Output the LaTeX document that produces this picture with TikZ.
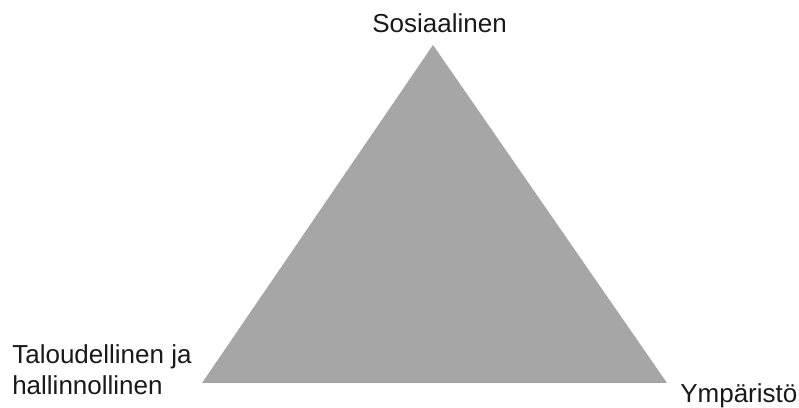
\documentclass[tikz,border=0pt]{standalone}
\usepackage{fontspec}
\setmainfont{Liberation Sans}
\usepackage{tikz}
\usetikzlibrary{positioning, calc}
\usepackage{xcolor}
\definecolor{TriGray}{HTML}{A6A6A6}

\begin{document}
\begin{tikzpicture}[
    font=\fontsize{18.5}{20.6}\selectfont,
    label/.style={inner sep=0pt, align=left, text=black!90},
    area/.style={fill=TriGray, draw=none}
]
    \useasboundingbox (0,0) rectangle (19.975,10.2);

    % Triangle corners
    \coordinate (top) at (10.825,9.075);
    \coordinate (left) at (5.05,0.625);
    \coordinate (right) at (16.675,0.625);
    \path[area] (top) -- (left) -- (right) -- cycle;

    % Labels
    \node[label, anchor=base] (sos) at (10.99,9.375) {Sosiaalinen};
    \node[label, anchor=base west] (tal) at (0.3,0.325) {Taloudellinen ja\\[2pt]hallinnollinen};
    \node[label, anchor=base west] (ymp) at (17.0,0.125) {Ympäristö};

\end{tikzpicture}
\end{document}
